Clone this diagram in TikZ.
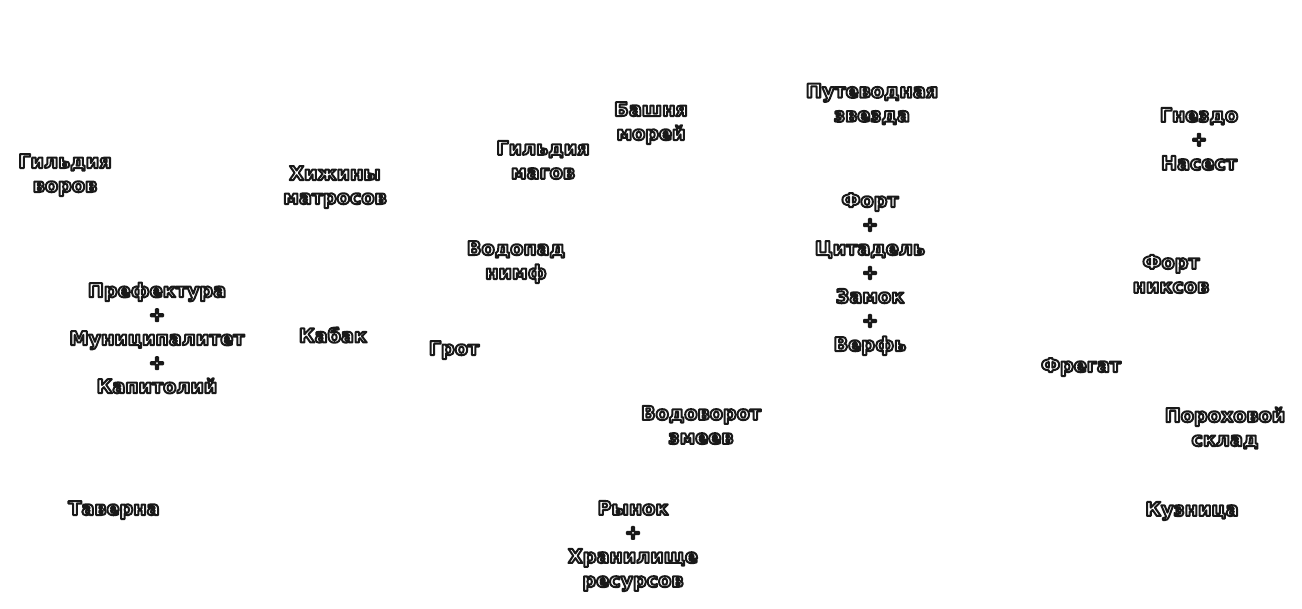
\documentclass[tikz,border=0pt]{standalone}
\usepackage{fontspec}
\newfontfamily\lbfont{DejaVu Sans}[BoldFont={* Bold}]
\newcommand\olt[1]{\special{pdf:code 0.1 G 1.5 w 1 j 2 Tr}#1\special{pdf:code 0 Tr}}
\tikzset{lbl/.style={text=white, align=center, inner sep=0pt, font=\lbfont\bfseries\fontsize{14.4}{18}\selectfont}}
\begin{document}
\begin{tikzpicture}[x=0.75pt,y=-0.75pt]
\useasboundingbox[fill=white] (0,0) rectangle (1302,608);
\node[lbl] (gv) at (65,175) {\olt{Гильдия\\воров}};
\node[lbl] (hm) at (335,187) {\olt{Хижины\\матросов}};
\node[lbl] (gm) at (543,160) {\olt{Гильдия\\магов}};
\node[lbl] (bm) at (651,123) {\olt{Башня\\морей}};
\node[lbl] (pz) at (872,104) {\olt{Путеводная\\звезда}};
\node[lbl] (gn) at (1199,139) {\olt{Гнездо\\+\\Насест}};
\node[lbl] (fc) at (870,274) {\olt{Форт\\+\\Цитадель\\+\\Замок\\+\\Верфь}};
\node[lbl] (vn) at (516,262) {\olt{Водопад\\нимф}};
\node[lbl] (pr) at (157,338) {\olt{Префектура\\+\\Муниципалитет\\+\\Капитолий}};
\node[lbl] (kb) at (333,335) {\olt{Кабак}};
\node[lbl] (gr) at (454,350) {\olt{Грот}};
\node[lbl] (fn) at (1171,274) {\olt{Форт\\никсов}};
\node[lbl] (fr) at (1081,367) {\olt{Фрегат}};
\node[lbl] (vz) at (701,425) {\olt{Водоворот\\змеев}};
\node[lbl] (ps) at (1225,428) {\olt{Пороховой\\склад}};
\node[lbl] (tv) at (114,510) {\olt{Таверна}};
\node[lbl] (rh) at (633,546) {\olt{Рынок\\+\\Хранилище\\ресурсов}};
\node[lbl] (kz) at (1192,511) {\olt{Кузница}};
\end{tikzpicture}
\end{document}
